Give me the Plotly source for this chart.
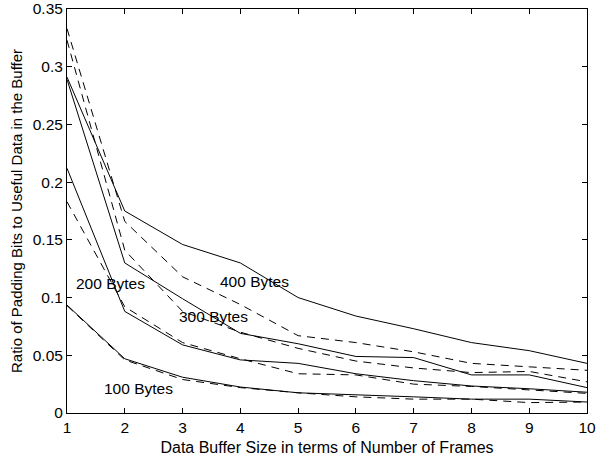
import plotly.graph_objects as go

frames = [1, 2, 3, 4, 5, 6, 7, 8, 9, 10]

solid_100 = [0.0935, 0.047, 0.031, 0.0225, 0.0175, 0.016, 0.014, 0.012, 0.012, 0.0095]
dashed_100 = [0.093, 0.046, 0.029, 0.022, 0.0175, 0.014, 0.012, 0.012, 0.009, 0.0095]
solid_200 = [0.212, 0.088, 0.059, 0.046, 0.043, 0.034, 0.028, 0.0234, 0.021, 0.018]
dashed_200 = [0.183, 0.092, 0.061, 0.047, 0.034, 0.033, 0.025, 0.023, 0.020, 0.017]
solid_300 = [0.289, 0.130, 0.099, 0.069, 0.060, 0.049, 0.048, 0.033, 0.033, 0.022]
dashed_300 = [0.323, 0.141, 0.088, 0.070, 0.056, 0.045, 0.039, 0.035, 0.036, 0.027]
solid_400 = [0.291, 0.175, 0.146, 0.130, 0.100, 0.084, 0.073, 0.061, 0.054, 0.043]
dashed_400 = [0.333, 0.166, 0.118, 0.094, 0.067, 0.061, 0.053, 0.043, 0.040, 0.037]

labels = ["100 Bytes", "200 Bytes", "300 Bytes", "400 Bytes"]
label_x = [2.23, 1.76, 3.54, 4.24]
label_y = [0.021, 0.112, 0.084, 0.114]

x_ticks = [1, 2, 3, 4, 5, 6, 7, 8, 9, 10]
y_ticks = [0, 0.05, 0.1, 0.15, 0.2, 0.25, 0.3, 0.35]
y_tick_text = ["0", "0.05", "0.1", "0.15", "0.2", "0.25", "0.3", "0.35"]

FONT = "Liberation Sans, Arial, Helvetica, sans-serif"

fig = go.Figure()
series = [
    (solid_100, "solid"), (dashed_100, "dash"),
    (solid_200, "solid"), (dashed_200, "dash"),
    (solid_300, "solid"), (dashed_300, "dash"),
    (solid_400, "solid"), (dashed_400, "dash"),
]
for vals, style in series:
    fig.add_trace(go.Scatter(
        x=frames, y=vals, mode="lines",
        line=dict(color="black", width=1, dash="solid" if style == "solid" else "8px,6px"),
        showlegend=False, hoverinfo="skip",
    ))

for txt, lx, ly in zip(labels, label_x, label_y):
    fig.add_annotation(x=lx, y=ly, text=txt, showarrow=False,
                       font=dict(family=FONT, size=15.5, color="black"),
                       xanchor="center", yanchor="middle")

axis_common = dict(
    showline=True, linecolor="black", linewidth=1, mirror="ticks",
    ticks="inside", ticklen=5, tickcolor="black", tickwidth=1,
    showgrid=False, zeroline=False, automargin=False,
    tickfont=dict(family=FONT, size=15.5, color="black"),
)

fig.update_xaxes(range=[1, 10], tickvals=x_ticks,
                 title=dict(text="Data Buffer Size in terms of Number of Frames",
                            font=dict(family=FONT, size=16, color="black"), standoff=7),
                 **axis_common)
fig.update_yaxes(range=[0, 0.35], tickvals=y_ticks, ticktext=y_tick_text,
                 title=dict(text="Ratio of Padding Bits to Useful Data in the Buffer",
                            font=dict(family=FONT, size=15, color="black"), standoff=6),
                 **axis_common)

fig.update_layout(
    width=596, height=459,
    margin=dict(l=67, r=9, t=9, b=46),
    paper_bgcolor="white", plot_bgcolor="white",
    font=dict(family=FONT, color="black"),
)

fig.write_html("out.html")
